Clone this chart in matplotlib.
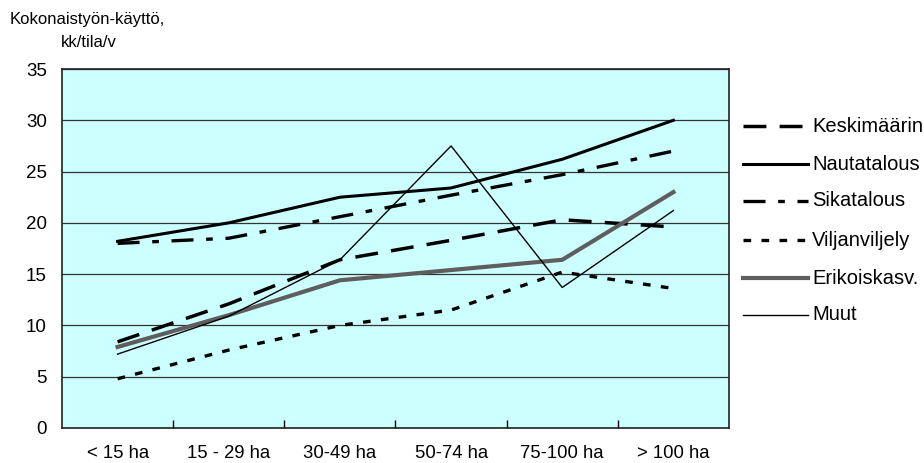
import matplotlib
matplotlib.use("Agg")
import matplotlib.pyplot as plt
from matplotlib.lines import Line2D
import numpy as np

plt.rcParams['font.family'] = ['Liberation Sans', 'DejaVu Sans']

categories = ["< 15 ha", "15 - 29 ha", "30-49 ha", "50-74 ha", "75-100 ha", "> 100 ha"]
keskimaarin = [8.4, 12.1, 16.4, 18.3, 20.3, 19.6]
nautatalous = [18.2, 20.0, 22.5, 23.4, 26.2, 30.0]
sikatalous = [18.0, 18.5, 20.6, 22.7, 24.7, 27.0]
viljanviljely = [4.8, 7.6, 10.0, 11.5, 15.2, 13.6]
erikoiskasv = [7.9, 11.0, 14.4, 15.4, 16.4, 23.0]
muut = [7.2, 10.9, 16.4, 27.5, 13.7, 21.2]
series_names = ["Keskimäärin", "Nautatalous", "Sikatalous", "Viljanviljely", "Erikoiskasv.", "Muut"]
yticks = [0, 5, 10, 15, 20, 25, 30, 35]

styles = [
    dict(color='black', lw=2.5, dashes=(6.6, 3.8)),
    dict(color='black', lw=2.2),
    dict(color='black', lw=2.4, dashes=(6.6, 3.8, 2.0, 3.8)),
    dict(color='black', lw=2.4, dashes=(2.3, 3.1)),
    dict(color='#5e5e5e', lw=3.0),
    dict(color='black', lw=1.0),
]
data = [keskimaarin, nautatalous, sikatalous, viljanviljely, erikoiskasv, muut]

fig = plt.figure(figsize=(9.24, 4.63), dpi=100)
W, H = 924, 463
ax = fig.add_axes([62 / W, 1 - 428 / H, (729 - 62) / W, (428 - 69) / H])
ax.set_facecolor('#CCFFFF')

x = np.arange(len(categories))
for name, vals, st in zip(series_names, data, styles):
    ax.plot(x, vals, label=name, **st)

ax.set_xlim(-0.5, len(categories) - 0.5)
ax.set_ylim(0, 35)
ax.set_yticks(yticks)
ax.set_yticklabels([str(v) for v in yticks], fontsize=13.5)
ax.tick_params(axis='y', length=0, pad=11)
ax.set_xticks(x)
ax.set_xticklabels(categories, fontsize=13.3)
ax.tick_params(axis='x', length=0, pad=12.5)
ax.set_xticks(np.arange(0.5, len(categories) - 1, 1.0), minor=True)
ax.tick_params(axis='x', which='minor', direction='in', length=6, width=1, color='black')
ax.grid(axis='y', color='#333333', lw=0.9)
ax.set_axisbelow(True)
for s in ax.spines.values():
    s.set_color('#222222')
    s.set_linewidth(1.2)

# manual legend (outside the plot, right side)
row_y = [126, 164, 201, 240, 278, 315]
for name, st, ry in zip(series_names, styles, row_y):
    yy = 1 - ry / H
    ln = Line2D([743 / W, 808 / W], [yy, yy], transform=fig.transFigure, **st)
    fig.add_artist(ln)
    fig.text(812 / W, yy, name, fontsize=14.5, va='center', ha='left')

fig.text(10 / W, 1 - 24 / H, "Kokonaistyön-käyttö,", fontsize=12, va='baseline', ha='left')
fig.text(61 / W, 1 - 47 / H, "kk/tila/v", fontsize=12, va='baseline', ha='left')

fig.savefig("out.png", dpi=100)
